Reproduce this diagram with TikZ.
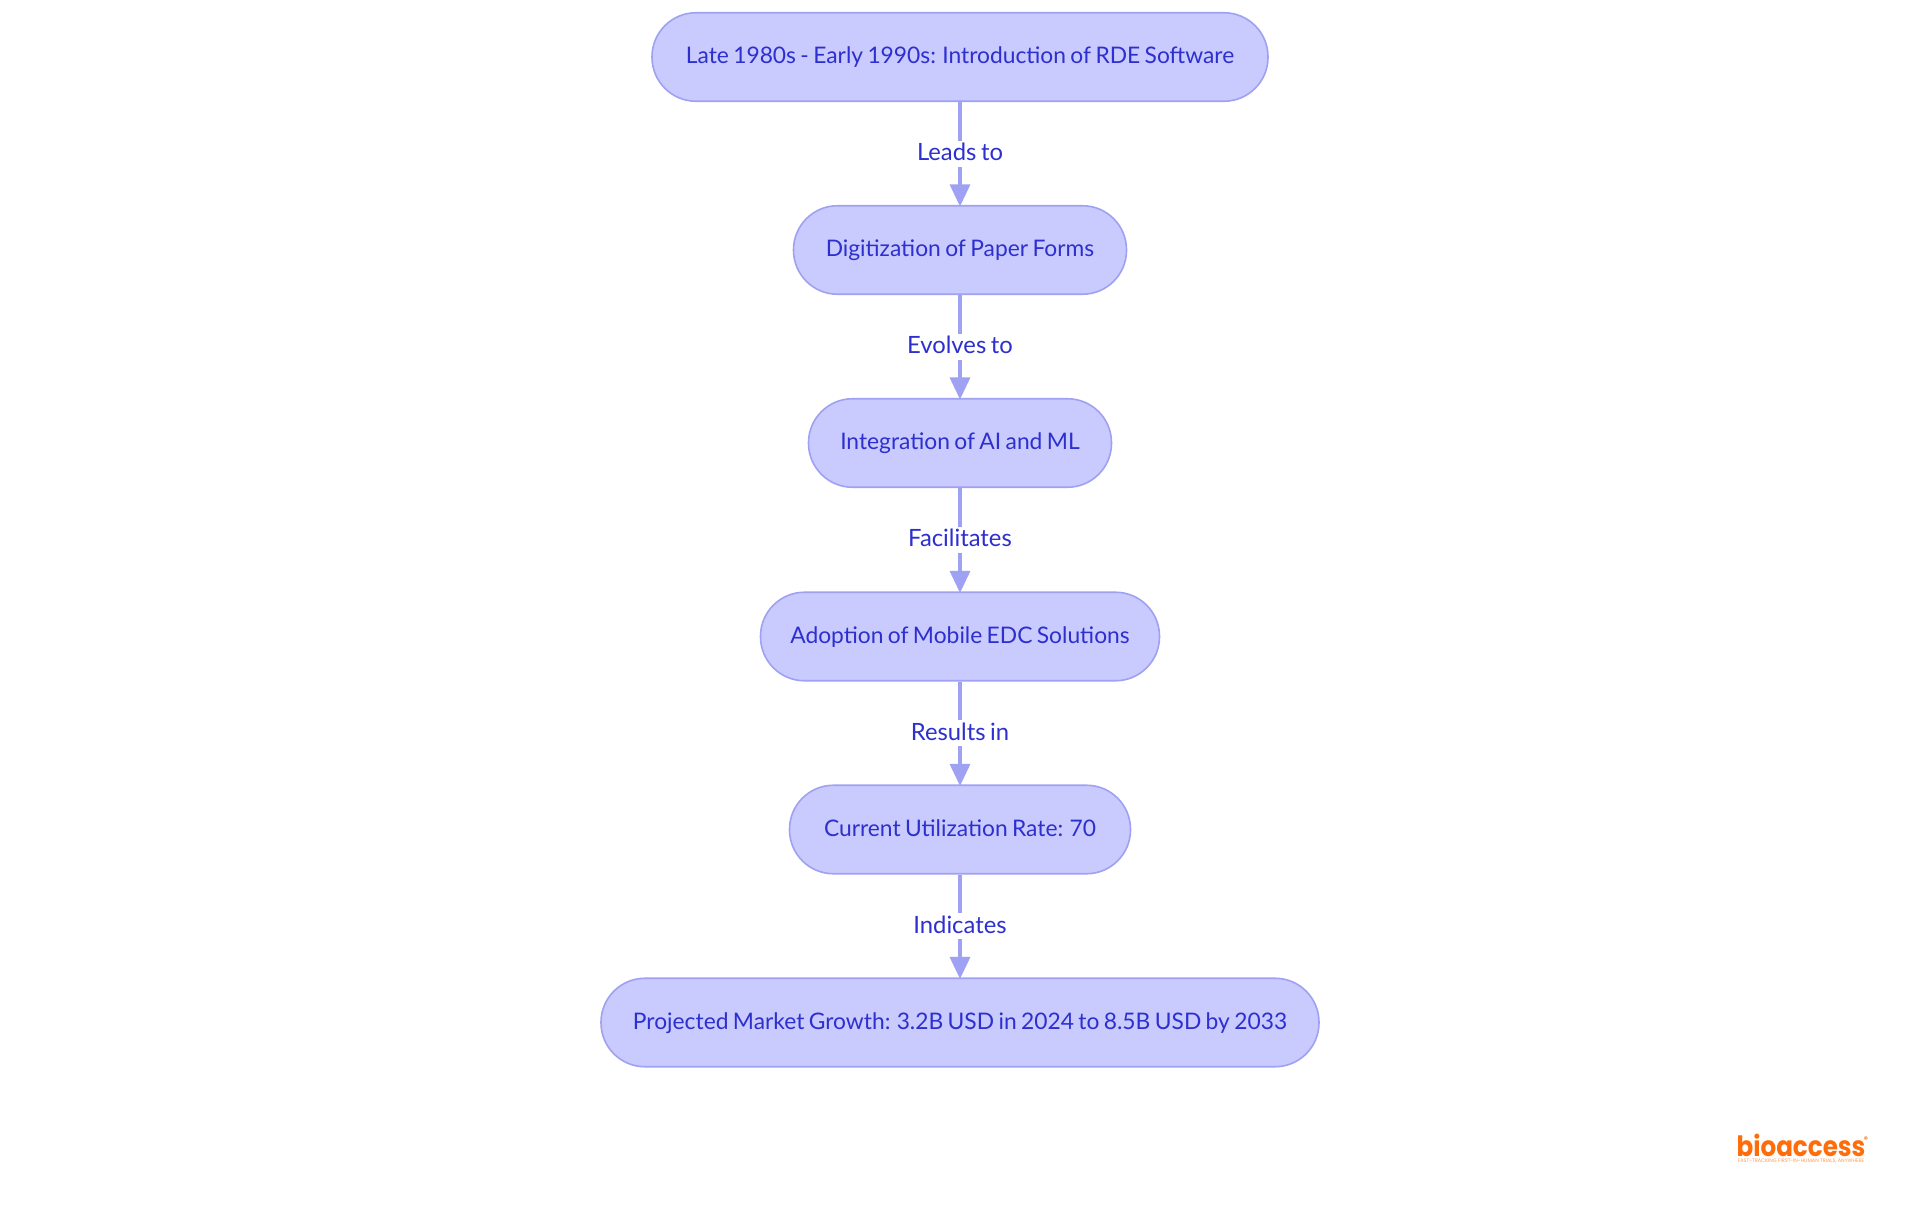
\documentclass[tikz,border=0pt]{standalone}
\usepackage{fontspec}
\setmainfont{Lato}[WordSpace=0.75]
\newfontfamily\logofont{Poppins}
\usetikzlibrary{arrows.meta}
\definecolor{boxfill}{HTML}{C9CAFD}
\definecolor{boxline}{HTML}{9FA1F2}
\definecolor{boxtext}{HTML}{2D2FCF}
\definecolor{logoorange}{HTML}{FF6D0A}
\tikzset{
  x=1pt,y=-1pt,
  stage/.style={rectangle,rounded corners=44pt,draw=boxline,fill=boxfill,line width=1.6pt,anchor=center,inner xsep=0pt,inner ysep=0pt,text height=19.4pt,text depth=5.6pt,minimum height=88.5pt,text=boxtext,font=\fontsize{22.8}{28}\selectfont},
  flow/.style={draw=boxline,line width=3.2pt,-{Triangle[length=22pt,width=20pt,fill=boxline]},shorten >=-1.5pt},
  flowlabel/.style={fill=white,text=boxtext,inner xsep=1pt,inner ysep=1pt,text height=19pt,text depth=5pt,anchor=center,font=\fontsize{23.8}{28}\selectfont},
}
\begin{document}
\begin{tikzpicture}
\useasboundingbox (0,0) rectangle (1920,1215);
\fill[white] (0,0) rectangle (1920,1215);
\node[stage,minimum width=616pt] (a) at (960,57) {Late 1980s - Early 1990s: Introduction of RDE Software};
\node[stage,minimum width=333pt] (b) at (960,250) {Digitization of Paper Forms};
\node[stage,minimum width=303pt] (c) at (960,443) {Integration of AI and ML};
\node[stage,minimum width=399pt] (d) at (960,636.5) {Adoption of Mobile EDC Solutions};
\node[stage,minimum width=341pt] (e) at (960,829.5) {Current Utilization Rate: 70};
\node[stage,minimum width=718pt] (f) at (960,1022.5) {Projected Market Growth: 3.2B USD in 2024 to 8.5B USD by 2033};
\draw[flow] (a) -- node[flowlabel,pos=.5] {Leads to} (b);
\draw[flow] (b) -- node[flowlabel,pos=.5] {Evolves to} (c);
\draw[flow] (c) -- node[flowlabel,pos=.5] {Facilitates} (d);
\draw[flow] (d) -- node[flowlabel,pos=.5] {Results in} (e);
\draw[flow] (e) -- node[flowlabel,pos=.5] {Indicates} (f);
\node[inner sep=0pt,anchor=center,text=logoorange,xscale=.88,font=\logofont\bfseries\fontsize{28}{30}\selectfont] (logo) at (1801,1145) {bioaccess};
\node[inner sep=0pt,anchor=center,text=logoorange,font=\logofont\bfseries\fontsize{8}{9}\selectfont] (reg) at (1866,1140) {®};
\node[inner sep=0pt,anchor=center,text=logoorange!70,font=\logofont\fontsize{5}{6}\selectfont] (tag) at (1801,1161.5) {FAST-TRACKING FIRST-IN-HUMAN TRIALS, ANYWHERE};
\end{tikzpicture}
\end{document}
